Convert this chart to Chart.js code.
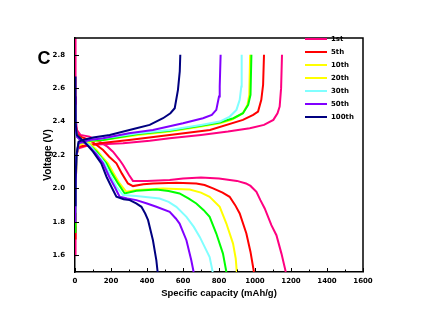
<!DOCTYPE html>
<html>
<head>
<meta charset="utf-8">
<script src="https://cdn.jsdelivr.net/npm/chart.js@4.4.1/dist/chart.umd.min.js"></script>
<style>
  html, body { margin: 0; padding: 0; background: #fff; }
  #wrap { width: 422px; height: 326px; position: relative; }
</style>
</head>
<body>
<div id="wrap"><canvas id="c"></canvas></div>
<script>
// ---- Data ----
const cycleLabels = ['1st', '5th', '10th', '20th', '30th', '50th', '100th'];
const xTickValues = [0, 200, 400, 600, 800, 1000, 1200, 1400, 1600];
const yTickValues = [1.6, 1.8, 2.0, 2.2, 2.4, 2.6, 2.8];
const panelLetter = 'C';

// discharge curves [capacity mAh/g, voltage V]
const discharge1st = [[0,2.9],[3,2.45],[10,2.35],[30,2.32],[80,2.31],[137,2.28],[180,2.25],[211,2.22],[248,2.17],[267,2.14],[300,2.08],[322,2.045],[400,2.045],[526,2.05],[600,2.06],[700,2.066],[800,2.06],[900,2.045],[950,2.03],[975,2.015],[1008,1.98],[1030,1.93],[1054,1.88],[1091,1.78],[1119,1.72],[1147,1.61],[1171,1.5]];
const discharge5th = [[0,2.55],[3,2.4],[10,2.33],[30,2.31],[80,2.29],[120,2.26],[156,2.23],[190,2.19],[230,2.15],[260,2.09],[294,2.03],[322,2.014],[380,2.025],[433,2.03],[563,2.034],[674,2.03],[720,2.02],[767,2.0],[820,1.975],[859,1.95],[890,1.9],[915,1.85],[952,1.73],[975,1.62],[994,1.5]];
const discharge10th = [[0,2.5],[3,2.38],[10,2.32],[30,2.3],[80,2.27],[120,2.23],[150,2.19],[183,2.15],[215,2.09],[248,2.03],[285,1.98],[341,1.99],[489,2.0],[637,1.994],[700,1.975],[748,1.95],[804,1.89],[841,1.79],[878,1.67],[893,1.58],[899,1.5]];
const discharge20th = [[0,2.45],[3,2.36],[10,2.31],[30,2.29],[80,2.26],[120,2.22],[150,2.18],[174,2.15],[205,2.09],[239,2.03],[276,1.97],[341,1.986],[452,1.994],[520,1.985],[581,1.97],[630,1.94],[674,1.91],[715,1.87],[748,1.83],[785,1.73],[822,1.61],[841,1.5]];
const discharge30th = [[0,2.5],[3,2.36],[10,2.31],[30,2.29],[80,2.26],[120,2.21],[145,2.18],[165,2.15],[200,2.07],[230,2.01],[267,1.96],[341,1.954],[470,1.94],[520,1.92],[563,1.89],[619,1.83],[660,1.77],[693,1.71],[748,1.59],[765,1.5]];
const discharge50th = [[0,2.55],[3,2.37],[10,2.31],[30,2.29],[80,2.25],[115,2.21],[156,2.15],[190,2.07],[220,2.01],[248,1.95],[290,1.94],[341,1.93],[400,1.91],[452,1.89],[526,1.86],[560,1.82],[581,1.79],[619,1.69],[646,1.57],[659,1.5]];
const discharge100th = [[0,2.67],[3,2.4],[10,2.32],[30,2.3],[60,2.27],[100,2.22],[146,2.15],[175,2.07],[202,2.01],[230,1.95],[270,1.935],[304,1.93],[340,1.91],[369,1.89],[390,1.85],[406,1.81],[433,1.69],[452,1.57],[459,1.5]];

// charge curves [capacity mAh/g, voltage V]
const charge1st = [[0,1.6],[3,1.95],[8,2.2],[20,2.24],[80,2.26],[150,2.265],[267,2.27],[415,2.285],[526,2.3],[700,2.32],[850,2.34],[971,2.36],[1050,2.38],[1102,2.41],[1125,2.45],[1137,2.49],[1145,2.6],[1150,2.8]];
const charge5th = [[0,1.7],[3,1.95],[8,2.2],[20,2.25],[80,2.26],[137,2.27],[300,2.29],[526,2.32],[750,2.35],[933,2.41],[990,2.44],[1017,2.46],[1035,2.53],[1045,2.62],[1050,2.8]];
const charge10th = [[0,1.78],[3,1.97],[8,2.2],[20,2.26],[80,2.28],[156,2.29],[350,2.32],[526,2.34],[700,2.37],[804,2.39],[870,2.41],[933,2.45],[958,2.5],[968,2.56],[973,2.8]];
const charge20th = [[0,1.74],[3,1.96],[8,2.2],[20,2.27],[80,2.285],[156,2.29],[350,2.325],[526,2.345],[700,2.375],[804,2.395],[880,2.42],[933,2.45],[962,2.5],[975,2.56],[980,2.8]];
const charge30th = [[0,1.86],[3,2.0],[8,2.2],[20,2.27],[80,2.29],[156,2.3],[350,2.33],[526,2.35],[700,2.38],[804,2.4],[860,2.43],[897,2.47],[915,2.53],[924,2.61],[926,2.8]];
const charge50th = [[0,1.8],[3,2.0],[8,2.2],[20,2.27],[80,2.29],[156,2.3],[300,2.33],[433,2.35],[600,2.39],[711,2.42],[760,2.44],[785,2.47],[800,2.55],[804,2.61],[809,2.8]];
const charge100th = [[0,1.9],[3,2.05],[8,2.2],[20,2.28],[44,2.29],[100,2.305],[193,2.32],[341,2.36],[415,2.38],[489,2.42],[530,2.45],[554,2.48],[572,2.59],[582,2.7],[585,2.8]];

const dischargeSeries = [discharge1st, discharge5th, discharge10th, discharge20th, discharge30th, discharge50th, discharge100th];
const chargeSeries = [charge1st, charge5th, charge10th, charge20th, charge30th, charge50th, charge100th];

// ---- Styles ----
const lineColors = ['#FF0080', '#FF0000', '#FFFF00', '#00FF00', '#80FFFF', '#8000FF', '#000080'];
const legendSwatchColors = ['#FF0080', '#FF0000', '#FFFF00', '#FFFF00', '#80FFFF', '#8000FF', '#000080'];

const toPts = arr => arr.map(p => ({ x: p[0], y: p[1] }));
const datasets = [];
cycleLabels.forEach((lab, i) => {
  const common = {
    borderColor: lineColors[i], backgroundColor: lineColors[i],
    borderWidth: 2, pointRadius: 0, showLine: true, fill: false,
    tension: 0, order: 20 - i
  };
  datasets.push(Object.assign({ label: lab, data: toPts(dischargeSeries[i]) }, common));
  datasets.push(Object.assign({ label: lab + ' charge', data: toPts(chargeSeries[i]) }, common));
});

const framePlugin = {
  id: 'frame',
  afterDraw(chart) {
    const { ctx, chartArea: a, scales } = chart;
    ctx.save();
    ctx.strokeStyle = '#000';
    ctx.lineWidth = 1.5;
    // top and right frame
    ctx.beginPath();
    ctx.moveTo(a.left, a.top); ctx.lineTo(a.right, a.top); ctx.lineTo(a.right, a.bottom);
    ctx.stroke();
    // inward ticks
    ctx.lineWidth = 1;
    const xs = scales.x, ys = scales.y;
    for (let v = 0; v <= 1600; v += 100) {
      const px = Math.round(xs.getPixelForValue(v)) + 0.5;
      const len = (v % 200 === 0) ? 4 : 2.5;
      ctx.beginPath(); ctx.moveTo(px, a.bottom); ctx.lineTo(px, a.bottom - len); ctx.stroke();
    }
    yTickValues.forEach(v => {
      const py = Math.round(ys.getPixelForValue(v)) + 0.5;
      ctx.beginPath(); ctx.moveTo(a.left, py); ctx.lineTo(a.left + 4, py); ctx.stroke();
    });
    // panel letter
    ctx.fillStyle = '#000';
    ctx.font = 'bold 18px "Liberation Sans", Arial, sans-serif';
    ctx.textAlign = 'center'; ctx.textBaseline = 'middle';
    ctx.fillText(panelLetter, 44, 59);
    // legend
    ctx.font = 'bold 7px "DejaVu Sans", sans-serif';
    ctx.textAlign = 'left';
    ctx.lineWidth = 2;
    cycleLabels.forEach((lab, i) => {
      const y = 39 + i * 13;
      ctx.strokeStyle = legendSwatchColors[i];
      ctx.beginPath(); ctx.moveTo(305, y); ctx.lineTo(327, y); ctx.stroke();
      ctx.fillText(lab, 331, y + 0.5);
    });
    ctx.restore();
  }
};

new Chart(document.getElementById('c'), {
  type: 'scatter',
  data: { datasets },
  options: {
    responsive: true,
    maintainAspectRatio: false,
    animation: false,
    devicePixelRatio: 1,
    layout: { padding: { left: 0, right: 59, top: 38, bottom: 0 } },
    plugins: { legend: { display: false }, tooltip: { enabled: false } },
    scales: {
      x: {
        type: 'linear', min: 0, max: 1600,
        afterFit(s) { s.height = 54; },
        afterBuildTicks(s) { s.ticks = xTickValues.map(v => ({ value: v })); },
        grid: { display: false, drawTicks: false },
        border: { display: true, color: '#000', width: 1.5 },
        ticks: { color: '#000', padding: 5, maxRotation: 0, autoSkip: false,
                 callback: v => String(v),
                 font: { family: '"DejaVu Sans", sans-serif', size: 7, weight: 'bold' } },
        title: { display: true, text: 'Specific capacity (mAh/g)', color: '#000',
                 padding: { top: 0, bottom: 27 },
                 font: { family: '"Liberation Sans", Arial, sans-serif', size: 9.5, weight: 'bold' } }
      },
      y: {
        type: 'linear', min: 1.5, max: 2.9,
        afterFit(s) { s.width = 75; },
        afterBuildTicks(s) { s.ticks = yTickValues.map(v => ({ value: v })); },
        grid: { display: false, drawTicks: false },
        border: { display: true, color: '#000', width: 1.5 },
        ticks: { color: '#000', padding: 10, autoSkip: false,
                 callback: v => Number(v).toFixed(1),
                 font: { family: '"DejaVu Sans", sans-serif', size: 7, weight: 'bold' } },
        title: { display: true, text: 'Voltage (V)', color: '#000',
                 padding: { top: 42, bottom: 0 },
                 font: { family: '"Liberation Sans", Arial, sans-serif', size: 10, weight: 'bold' } }
      }
    }
  },
  plugins: [framePlugin]
});
</script>
</body>
</html>
